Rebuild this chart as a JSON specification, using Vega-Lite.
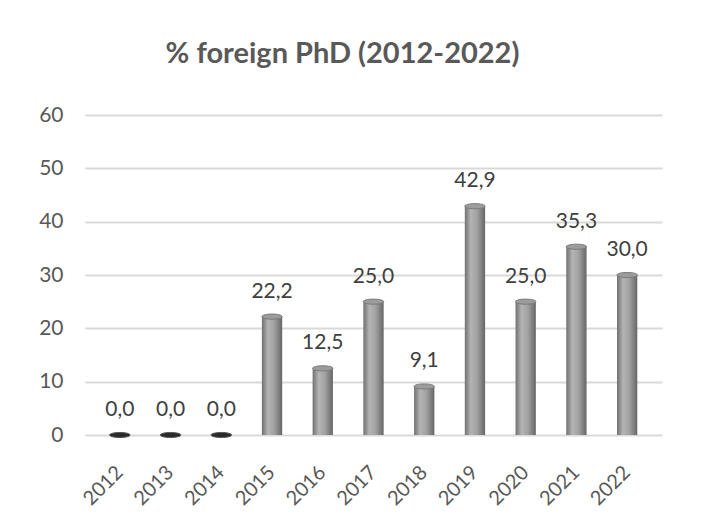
{
  "$schema": "https://vega.github.io/schema/vega-lite/v6.json",
  "autosize": "none",
  "padding": {"left": 85, "top": 115, "right": 39, "bottom": 96},
  "width": 577,
  "height": 320,
  "background": "white",
  "title": {
    "text": "% foreign PhD (2012-2022)",
    "font": "Lato",
    "fontSize": 29,
    "fontWeight": "bold",
    "color": "#595959",
    "anchor": "middle",
    "frame": "group",
    "dx": -31,
    "baseline": "alphabetic",
    "offset": 12
  },
  "config": {
    "locale": {"number": {"decimal": ",", "thousands": ".", "grouping": [3], "currency": ["", " €"]}},
    "view": {"stroke": null},
    "font": "Lato"
  },
  "data": {
    "values": [
      {"year": "2012", "value": 0.0},
      {"year": "2013", "value": 0.0},
      {"year": "2014", "value": 0.0},
      {"year": "2015", "value": 22.2},
      {"year": "2016", "value": 12.5},
      {"year": "2017", "value": 25.0},
      {"year": "2018", "value": 9.1},
      {"year": "2019", "value": 42.9},
      {"year": "2020", "value": 25.0},
      {"year": "2021", "value": 35.3},
      {"year": "2022", "value": 30.0}
    ]
  },
  "encoding": {
    "x": {
      "field": "year",
      "type": "nominal",
      "sort": "ascending",
      "title": null,
      "scale": {"paddingInner": 0, "paddingOuter": 0.187},
      "axis": {
        "labelAngle": -45,
        "labelAlign": "right",
        "labelBaseline": "middle",
        "labelPadding": 34,
        "labelFont": "Lato",
        "labelFontSize": 20,
        "labelColor": "#595959",
        "domain": false,
        "ticks": false,
        "grid": false
      }
    },
    "y": {
      "field": "value",
      "type": "quantitative",
      "title": null,
      "scale": {"domain": [0, 60], "nice": false},
      "axis": {
        "values": [0, 10, 20, 30, 40, 50, 60],
        "labelPadding": 22,
        "labelFont": "Lato",
        "labelFontSize": 21,
        "labelColor": "#595959",
        "domain": false,
        "ticks": false,
        "grid": true,
        "gridColor": "#d9d9d9",
        "gridWidth": 2
      }
    }
  },
  "layer": [
    {
      "mark": {
        "type": "bar",
        "width": {"band": 0.4},
        "color": {
          "gradient": "linear",
          "x1": 0, "y1": 0, "x2": 1, "y2": 0,
          "stops": [
            {"offset": 0, "color": "#707070"},
            {"offset": 0.3, "color": "#b4b4b4"},
            {"offset": 0.6, "color": "#a2a2a2"},
            {"offset": 1, "color": "#666666"}
          ]
        }
      }
    },
    {
      "mark": {
        "type": "point",
        "shape": "M-1,0 A1,0.25 0 1,0 1,0 A1,0.25 0 1,0 -1,0 Z",
        "size": 420,
        "filled": true,
        "strokeWidth": 1
      },
      "encoding": {
        "fill": {
          "condition": {"test": "datum.value == 0", "value": "#2a2a2a"},
          "value": "#9c9c9c"
        },
        "stroke": {
          "condition": {"test": "datum.value == 0", "value": "#555555"},
          "value": "#7a7a7a"
        },
        "opacity": {"value": 1}
      }
    },
    {
      "mark": {
        "type": "text",
        "baseline": "middle",
        "dy": -25,
        "font": "Lato",
        "fontSize": 21,
        "color": "#404040"
      },
      "encoding": {
        "text": {"field": "value", "type": "quantitative", "format": ".1f"}
      }
    }
  ]
}
